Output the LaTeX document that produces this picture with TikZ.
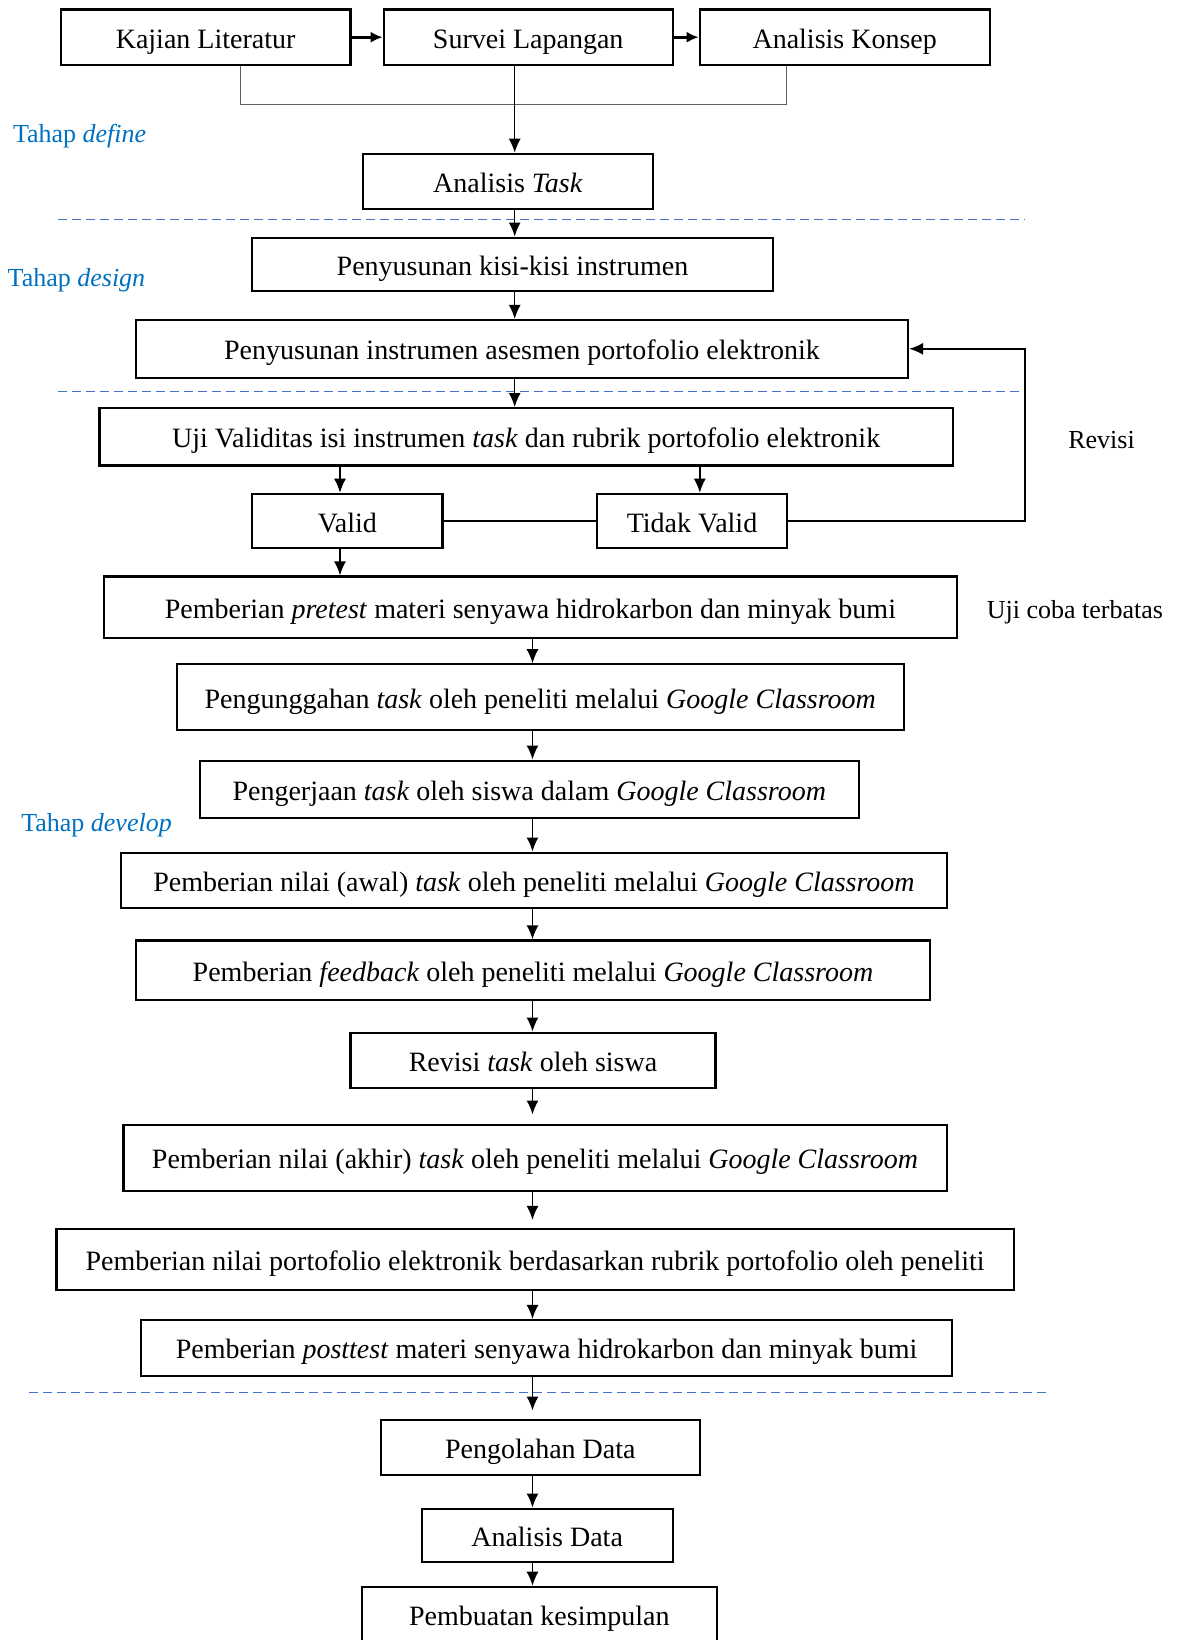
\documentclass[tikz,border=0pt]{standalone}
\usepackage{fontspec}
\setmainfont{Liberation Serif}
\usepackage{tikz}
\usetikzlibrary{arrows.meta,positioning,calc}
\definecolor{tahapblue}{HTML}{0070C0}
\definecolor{dashblue}{HTML}{4472C4}
\definecolor{linkgray}{HTML}{606060}

\begin{document}
\begin{tikzpicture}[x=0.5pt, y=-0.5pt, >={Latex[length=7pt,width=6pt]},
  stepbox/.style={draw, line width=1.1pt, inner sep=0pt, text height=11pt, text depth=0pt, font=\fontsize{14}{16}\selectfont},
  flow/.style={->, line width=0.75pt},
  phase/.style={dashblue, line width=0.6pt, dash pattern=on 4.5pt off 2.5pt},
  tahap/.style={anchor=west, inner sep=0pt, text=tahapblue, font=\fontsize{13}{15}\selectfont},
  side/.style={inner sep=0pt, font=\fontsize{13}{15}\selectfont}]
  \useasboundingbox (0,0) rectangle (1179,1640);

  % tahap define
  \node[stepbox, minimum width=144.8pt, minimum height=27.7pt] (kajian) at (205.6,37.2) {Kajian Literatur};
  \node[stepbox, minimum width=144.4pt, minimum height=27.7pt] (survei) at (528.2,37.2) {Survei Lapangan};
  \node[stepbox, minimum width=144.9pt, minimum height=27.7pt] (konsep) at (844.7,37.2) {Analisis Konsep};
  \node[stepbox, minimum width=144.9pt, minimum height=27.7pt] (task) at (507.9,181.5) {Analisis \textit{Task}};
  \node[tahap] (tdefine) at (12.6,136) {Tahap \textit{define}};

  % tahap design
  \node[stepbox, minimum width=260.5pt, minimum height=26.6pt] (kisi) at (512.5,264.2) {Penyusunan kisi-kisi instrumen};
  \node[stepbox, minimum width=386pt, minimum height=28.8pt] (instr) at (522,348.8) {Penyusunan instrumen asesmen portofolio elektronik};
  \node[tahap] (tdesign) at (7.3,280.3) {Tahap \textit{design}};

  % tahap develop
  \node[stepbox, minimum width=426.8pt, minimum height=28.7pt] (uji) at (526.2,436.8) {Uji Validitas isi instrumen \textit{task} dan rubrik portofolio elektronik};
  \node[stepbox, minimum width=95.2pt, minimum height=27.2pt] (valid) at (347.3,521) {Valid};
  \node[stepbox, minimum width=94.7pt, minimum height=27.2pt] (tvalid) at (692,521) {Tidak Valid};
  \node[side] (revisi) at (1101.5,440.4) {Revisi};
  \node[stepbox, minimum width=426.8pt, minimum height=30.8pt] (pretest) at (530.4,607.3) {Pemberian \textit{pretest} materi senyawa hidrokarbon dan minyak bumi};
  \node[side] (ujicoba) at (1074.9,612.5) {Uji coba terbatas};
  \node[stepbox, minimum width=363.5pt, minimum height=33pt] (unggah) at (540.3,697.3) {Pengunggahan \textit{task} oleh peneliti melalui \textit{Google Classroom}};
  \node[stepbox, minimum width=329.5pt, minimum height=28.7pt] (kerja) at (529.3,789.3) {Pengerjaan \textit{task} oleh siswa dalam \textit{Google Classroom}};
  \node[tahap] (tdevelop) at (20.9,825.3) {Tahap \textit{develop}};
  \node[stepbox, minimum width=412.7pt, minimum height=27.7pt] (awal) at (534,880.3) {Pemberian nilai (awal) \textit{task} oleh peneliti melalui \textit{Google Classroom}};
  \node[stepbox, minimum width=397pt, minimum height=29.8pt] (feedback) at (533,970.2) {Pemberian \textit{feedback} oleh peneliti melalui \textit{Google Classroom}};
  \node[stepbox, minimum width=182.5pt, minimum height=27.7pt] (revtask) at (533,1060.3) {Revisi \textit{task} oleh siswa};
  \node[stepbox, minimum width=411.6pt, minimum height=33pt] (akhir) at (535,1157.6) {Pemberian nilai (akhir) \textit{task} oleh peneliti melalui \textit{Google Classroom}};
  \node[stepbox, minimum width=478.6pt, minimum height=30.4pt] (porto) at (535.1,1259.4) {Pemberian nilai portofolio elektronik berdasarkan rubrik portofolio oleh peneliti};
  \node[stepbox, minimum width=405.4pt, minimum height=27.8pt] (posttest) at (546.6,1347.8) {Pemberian \textit{posttest} materi senyawa hidrokarbon dan minyak bumi};

  % olah data
  \node[stepbox, minimum width=159.5pt, minimum height=27.7pt] (olah) at (540.3,1447.3) {Pengolahan Data};
  \node[stepbox, minimum width=125.5pt, minimum height=26.6pt] (adata) at (547.1,1535.2) {Analisis Data};
  \node[stepbox, minimum width=177.3pt, minimum height=27.7pt] (simpulan) at (539.3,1614.5) {Pembuatan kesimpulan};

  % axes and corners
  \coordinate (ax) at (514.7,0);
  \coordinate (bx) at (532.5,0);
  \coordinate (va) at (340,0);
  \coordinate (ta) at (699.8,0);
  \coordinate (bl) at (240.6,104.6);
  \coordinate (br) at (786.7,104.6);
  \coordinate (rv) at (1025,0);

  % phase borders
  \coordinate (d1l) at (57.5,219.7);  \coordinate (d1r) at (1025,219.7);
  \coordinate (d2l) at (57.5,391.2);  \coordinate (d2r) at (1025,391.2);
  \coordinate (d3l) at (29.3,1392.4); \coordinate (d3r) at (1049.3,1392.4);
  \draw[phase] (d1l) -- (d1r);
  \draw[phase] (d2l) -- (d2r);
  \draw[phase] (d3l) -- (d3r);

  \draw[->, line width=1.3pt, >={Latex[length=6pt,width=5.5pt]}] (kajian.east) -- (survei.west);
  \draw[->, line width=1.3pt, >={Latex[length=6pt,width=5.5pt]}] (survei.east) -- (konsep.west);
  \draw[linkgray, line width=0.6pt] (kajian.south -| bl) -- (bl) -- (br) -- (konsep.south -| br);
  \draw[flow] (survei.south -| ax) -- (task.north -| ax);
  \draw[flow] (task.south -| ax) -- (kisi.north -| ax);
  \draw[flow] (kisi.south -| ax) -- (instr.north -| ax);
  \draw[flow] (instr.south -| ax) -- (uji.north -| ax);
  \draw[flow] (uji.south -| va) -- (valid.north -| va);
  \draw[flow] (uji.south -| ta) -- (tvalid.north -| ta);
  \draw[line width=0.6pt] (valid.east) -- (tvalid.west);
  \draw[flow, line width=0.8pt] (tvalid.east) -| (rv |- instr.east) -- (instr.east);
  \draw[flow] (valid.south -| va) -- (pretest.north -| va);
  \draw[flow] (pretest.south -| bx) -- (unggah.north -| bx);
  \draw[flow] (unggah.south -| bx) -- (kerja.north -| bx);
  \draw[flow] (kerja.south -| bx) -- (awal.north -| bx);
  \draw[flow] (awal.south -| bx) -- (feedback.north -| bx);
  \draw[flow] (feedback.south -| bx) -- (revtask.north -| bx);
  \draw[flow, shorten >=4.5pt] (revtask.south -| bx) -- (akhir.north -| bx);
  \draw[flow, shorten >=4pt] (akhir.south -| bx) -- (porto.north -| bx);
  \draw[flow] (porto.south -| bx) -- (posttest.north -| bx);
  \draw[flow, shorten >=4pt] (posttest.south -| bx) -- (olah.north -| bx);
  \draw[flow] (olah.south -| bx) -- (adata.north -| bx);
  \draw[flow] (adata.south -| bx) -- (simpulan.north -| bx);
\end{tikzpicture}
\end{document}
